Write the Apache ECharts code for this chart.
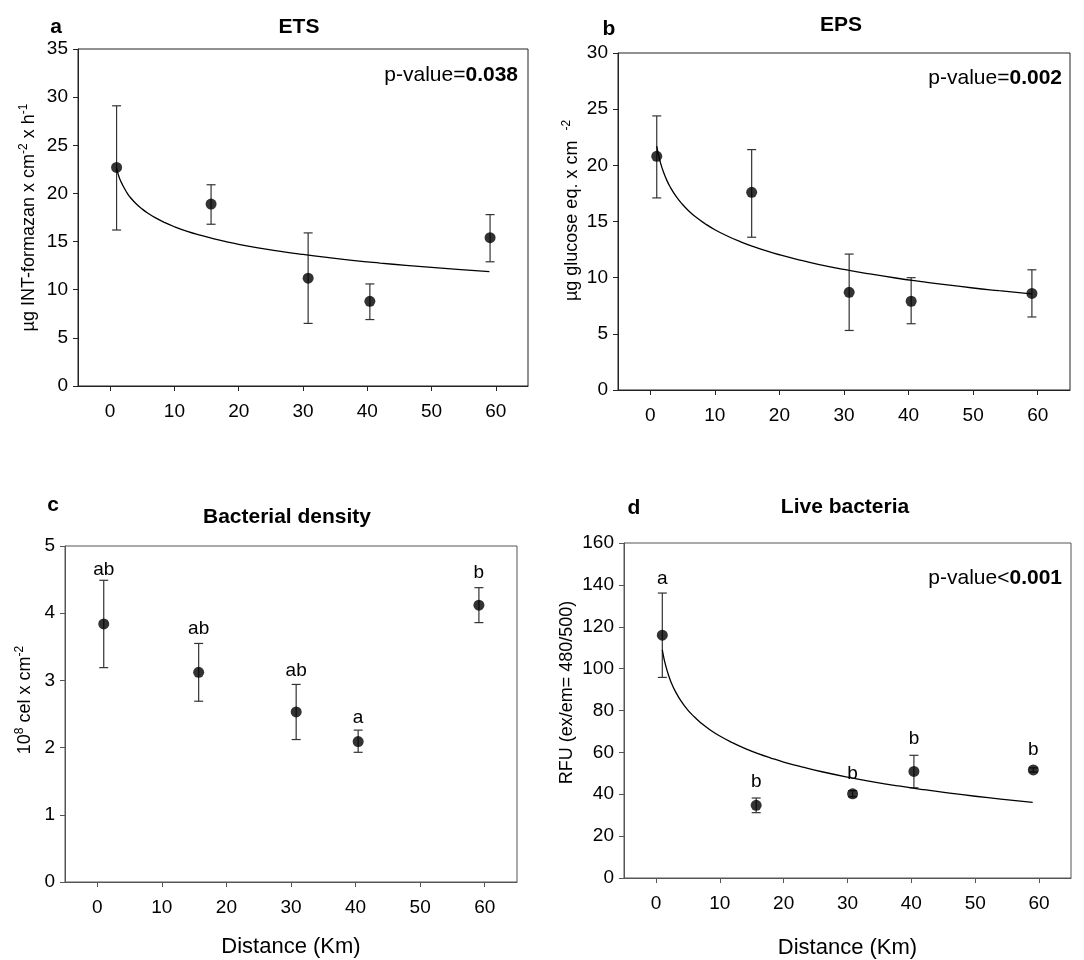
<!DOCTYPE html>
<html>
<head>
    <meta charset="UTF-8">
    <title>ETS / EPS / Bacteria vs distance</title>
    <script type="text/javascript" src="https://cdn.jsdelivr.net/npm/echarts@6/dist/echarts.min.js"></script>
    <style type="text/css">
        html, body { margin: 0; padding: 0; background: #fff; }
        #chart { width: 1084px; height: 960px; }
    </style>
</head>
<body>
    <div id="chart"></div>

<script type="text/javascript">
    // 距离 (Km)
    var xDist = [1, 15.7, 30.8, 40.4, 59.1];
    var xTicks = [0, 10, 20, 30, 40, 50, 60];

    // a: ETS
    var etsMean = [22.7, 18.9, 11.2, 8.8, 15.4];
    var etsLow  = [16.2, 16.8, 6.5, 6.9, 12.9];
    var etsHigh = [29.1, 20.9, 15.9, 10.6, 17.8];

    // b: EPS
    var epsMean = [20.8, 17.6, 8.7, 7.9, 8.6];
    var epsLow  = [17.1, 13.6, 5.3, 5.9, 6.5];
    var epsHigh = [24.4, 21.4, 12.1, 10.0, 10.7];

    // c: Bacterial density
    var denMean = [3.84, 3.12, 2.53, 2.09, 4.12];
    var denLow  = [3.19, 2.69, 2.12, 1.93, 3.86];
    var denHigh = [4.49, 3.55, 2.94, 2.26, 4.38];
    var denLetters = ['ab', 'ab', 'ab', 'a', 'b'];
    var denLetterY = [4.65, 3.77, 3.15, 2.44, 4.60];

    // d: Live bacteria
    var liveMean = [116, 34.7, 40.2, 50.9, 51.6];
    var liveLow  = [95.8, 31.2, 38.8, 43.1, 50.6];
    var liveHigh = [136.1, 38.2, 41.7, 58.6, 52.6];
    var liveLetters = ['a', 'b', 'b', 'b', 'b'];
    var liveLetterY = [143.0, 46.1, 49.6, 66.7, 61.1];

    // 拟合曲线
    var curveX  = [1, 1.25, 1.5, 2, 2.5, 3, 4, 5, 6, 7, 8.5, 10, 12, 14, 16, 18, 20, 23, 26, 30, 34, 38, 42, 46, 50, 54, 59];
    var etsFit  = [22.6, 22.0, 21.5, 20.8, 20.2, 19.7, 18.95, 18.37, 17.89, 17.48, 16.97, 16.54, 16.06, 15.66, 15.31, 15.0, 14.72,
                   14.35, 14.03, 13.66, 13.33, 13.03, 12.77, 12.53, 12.31, 12.11, 11.87];
    var epsFit  = [21.7, 20.98, 20.39, 19.47, 18.75, 18.16, 17.23, 16.51, 15.92, 15.42, 14.8, 14.27, 13.69, 13.19, 12.76, 12.38, 12.04,
                   11.59, 11.19, 10.73, 10.33, 9.97, 9.65, 9.35, 9.08, 8.84, 8.55];
    var liveFit = [109, 105.0, 101.8, 96.6, 92.6, 89.4, 84.2, 80.2, 77.0, 74.2, 70.7, 67.8, 64.6, 61.8, 59.4, 57.3, 55.4,
                   52.95, 50.75, 48.2, 45.95, 43.95, 42.16, 40.54, 39.05, 37.68, 36.1];

    var FONT = 'Liberation Sans, Arial, sans-serif';

    function zip(xs, ys) {
        return xs.map(function (x, i) { return [x, ys[i]]; });
    }
    function zip3(xs, a, b) {
        return xs.map(function (x, i) { return [x, a[i], b[i]]; });
    }

    function errRender(params, api) {
        var x = api.value(0);
        var pLo = api.coord([x, api.value(1)]);
        var pHi = api.coord([x, api.value(2)]);
        var w = 4.5;
        var st = { stroke: '#333', lineWidth: 1.2 };
        return {
            type: 'group',
            children: [
                { type: 'line', shape: { x1: pLo[0], y1: pLo[1], x2: pHi[0], y2: pHi[1] }, style: st },
                { type: 'line', shape: { x1: pLo[0] - w, y1: pLo[1], x2: pLo[0] + w, y2: pLo[1] }, style: st },
                { type: 'line', shape: { x1: pHi[0] - w, y1: pHi[1], x2: pHi[0] + w, y2: pHi[1] }, style: st }
            ]
        };
    }

    function letterRender(letters) {
        return function (params, api) {
            var p = api.coord([api.value(0), api.value(1)]);
            return {
                type: 'text', x: p[0], y: p[1],
                style: {
                    text: letters[params.dataIndex], font: '19px ' + FONT,
                    fill: '#000', textAlign: 'center', textVerticalAlign: 'middle'
                }
            };
        };
    }

    /* 四个网格 */
    var grids = [
        { left: 78,  top: 49,  width: 450, height: 337 },
        { left: 618, top: 53,  width: 452, height: 337 },
        { left: 65,  top: 546, width: 452, height: 336 },
        { left: 624, top: 543, width: 447, height: 336 }
    ];
    var boxColor = ['#222', '#222', '#555', '#555'];
    grids.forEach(function (g, i) {
        g.show = true;
        g.borderColor = boxColor[i];
        g.borderWidth = 1;
    });

    function makeX(i, withName, gap) {
        return {
            gridIndex: i, type: 'value', min: -5, max: 65,
            axisLine: { onZero: false, lineStyle: { color: boxColor[i], width: 1 } },
            axisTick: { customValues: xTicks, length: 5, lineStyle: { color: boxColor[i] } },
            axisLabel: { customValues: xTicks, margin: 16, color: '#000', fontSize: 19, fontFamily: FONT },
            splitLine: { show: false },
            name: withName ? 'Distance (Km)' : '',
            nameLocation: 'middle', nameGap: gap,
            nameTextStyle: { color: '#000', fontSize: 22, fontFamily: FONT }
        };
    }

    var supStyle = { fontSize: 12, verticalAlign: 'top', fontFamily: FONT, color: '#000' };

    function makeY(i, max, interval, name, gap, pad) {
        return {
            gridIndex: i, type: 'value', min: 0, max: max, interval: interval,
            axisLine: { show: true, onZero: false, lineStyle: { color: boxColor[i], width: 1 } },
            axisTick: { show: true, length: 5, lineStyle: { color: boxColor[i] } },
            axisLabel: { margin: 10, color: '#000', fontSize: 19, fontFamily: FONT },
            splitLine: { show: false },
            name: name, nameLocation: 'middle', nameGap: gap,
            nameTextStyle: {
                color: '#000', fontSize: 18, fontFamily: FONT, lineHeight: 22,
                padding: [0, 0, 0, pad],
                rich: { s: supStyle }
            }
        };
    }

    var series = [];
    function addPanel(i, mean, low, high, fit) {
        series.push({
            type: 'custom', xAxisIndex: i, yAxisIndex: i,
            renderItem: errRender, data: zip3(xDist, low, high), z: 2
        });
        if (fit) {
            series.push({
                type: 'line', xAxisIndex: i, yAxisIndex: i, smooth: true,
                showSymbol: false, data: zip(curveX, fit),
                lineStyle: { color: '#000', width: 1.3 }, z: 3
            });
        }
        series.push({
            type: 'scatter', xAxisIndex: i, yAxisIndex: i, symbolSize: 11,
            itemStyle: { color: '#000' }, data: zip(xDist, mean), z: 4
        });
    }
    addPanel(0, etsMean, etsLow, etsHigh, etsFit);
    addPanel(1, epsMean, epsLow, epsHigh, epsFit);
    addPanel(2, denMean, denLow, denHigh, null);
    addPanel(3, liveMean, liveLow, liveHigh, liveFit);

    series.push({
        type: 'custom', xAxisIndex: 2, yAxisIndex: 2,
        renderItem: letterRender(denLetters), data: zip(xDist, denLetterY)
    });
    series.push({
        type: 'custom', xAxisIndex: 3, yAxisIndex: 3,
        renderItem: letterRender(liveLetters), data: zip(xDist, liveLetterY)
    });

    function txt(x, y, text, size, bold, align) {
        return {
            type: 'text', x: x, y: y,
            style: {
                text: text, font: (bold ? 'bold ' : '') + size + 'px ' + FONT,
                fill: '#000', textAlign: align || 'center', textVerticalAlign: 'middle'
            }
        };
    }
    function pval(x, y, pre, val) {
        return {
            type: 'text', x: x, y: y,
            style: {
                text: '{n|' + pre + '}{b|' + val + '}',
                textAlign: 'right', textVerticalAlign: 'middle',
                rich: {
                    n: { fontSize: 21, fontFamily: FONT, fill: '#000' },
                    b: { fontSize: 21, fontFamily: FONT, fontWeight: 'bold', fill: '#000' }
                }
            }
        };
    }

    var myChart = echarts.init(document.getElementById('chart'));
    var option = {
        backgroundColor: '#fff',
        animation: false,
        grid: grids,
        xAxis: [makeX(0, false, 0), makeX(1, false, 0), makeX(2, true, 54), makeX(3, true, 59)],
        yAxis: [
            makeY(0, 35, 5, 'µg INT-formazan x cm{s|-2} x h{s|-1}', 38, 0),
            makeY(1, 30, 5, 'µg glucose eq. x cm  {s|-2}', 29, 22),
            makeY(2, 5, 1, '10{s|8} cel x cm{s|-2}', 29, 28),
            makeY(3, 160, 20, 'RFU (ex/em= 480/500)', 45, 36)
        ],
        series: series,
        graphic: [
            txt(56, 27, 'a', 21, true),
            txt(299, 27, 'ETS', 21, true),
            txt(609, 29, 'b', 21, true),
            txt(841, 25, 'EPS', 21, true),
            txt(53, 505, 'c', 21, true),
            txt(287, 517, 'Bacterial density', 21, true),
            txt(634, 508, 'd', 21, true),
            txt(845, 507, 'Live bacteria', 21, true),
            pval(518, 75, 'p-value=', '0.038'),
            pval(1062, 78, 'p-value=', '0.002'),
            pval(1062, 578, 'p-value<', '0.001')
        ]
    };
    myChart.setOption(option);
</script>
</body>
</html>
